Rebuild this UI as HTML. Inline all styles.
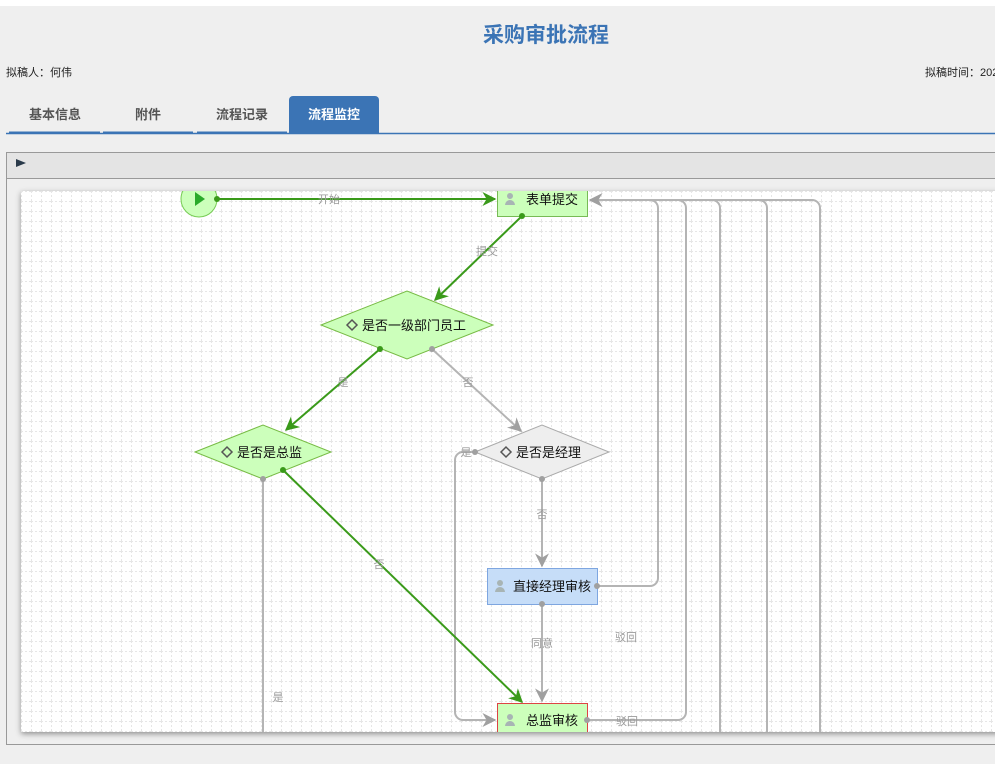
<!DOCTYPE html>
<html><head><meta charset="utf-8"><style>
html,body{margin:0;padding:0;width:995px;height:764px;overflow:hidden;background:#efefef;font-family:"Liberation Sans","Noto Sans CJK SC",sans-serif;}
</style></head><body>
<svg width="995" height="764" xmlns="http://www.w3.org/2000/svg" style="position:absolute;left:0;top:0;font-family:'Liberation Sans','Noto Sans CJK SC',sans-serif">
<defs>
<pattern id="g" width="10" height="10" patternUnits="userSpaceOnUse" x="21" y="191">
<path d="M0 0.5H10M0.5 0V10" stroke="#e6e6e6" stroke-width="1" stroke-dasharray="2,2" fill="none"/>
</pattern>
<marker id="ag" viewBox="0 0 10 10" refX="9" refY="5" markerWidth="7" markerHeight="7" orient="auto"><path d="M0 0L10 5L0 10L3 5z" fill="#3a9a1a"/></marker>
<marker id="ay" viewBox="0 0 10 10" refX="9" refY="5" markerWidth="7" markerHeight="7" orient="auto"><path d="M0 0L10 5L0 10L3 5z" fill="#a0a0a0"/></marker>
<filter id="sh" x="-5%" y="-5%" width="110%" height="110%"><feDropShadow dx="0" dy="2" stdDeviation="3" flood-color="#000" flood-opacity="0.4"/></filter>
<clipPath id="c"><rect x="21" y="191" width="974" height="541"/></clipPath>
</defs>
<rect x="0" y="0" width="995" height="6" fill="#fff"/>
<text x="546" y="42" text-anchor="middle" font-size="21" font-weight="bold" fill="#3b74b5">采购审批流程</text>
<text x="6" y="76" font-size="11" fill="#222">拟稿人：何伟</text>
<text x="925" y="76" font-size="11" fill="#222">拟稿时间：2021</text>
<line x1="6" y1="133.5" x2="995" y2="133.5" stroke="#3b74b5" stroke-width="1.5"/>
<g font-size="13" font-weight="bold" fill="#555" text-anchor="middle">
<line x1="9" y1="132.5" x2="100" y2="132.5" stroke="#3b74b5" stroke-width="2"/>
<line x1="103" y1="132.5" x2="193" y2="132.5" stroke="#3b74b5" stroke-width="2"/>
<line x1="197" y1="132.5" x2="287" y2="132.5" stroke="#3b74b5" stroke-width="2"/>
<text x="55" y="119">基本信息</text><text x="148" y="119">附件</text><text x="242" y="119">流程记录</text>
<path d="M289 133V100a4 4 0 0 1 4-4h82a4 4 0 0 1 4 4V133z" fill="#3b74b5"/>
<text x="334" y="119" fill="#fff">流程监控</text>
</g>
<rect x="6.5" y="152.5" width="995" height="592" fill="#efefef" stroke="#999"/>
<rect x="7" y="153" width="990" height="25" fill="#e4e4e4"/>
<line x1="7" y1="178.5" x2="995" y2="178.5" stroke="#999"/>
<path d="M16 159L26 163L16 167z" fill="#2a3a4a"/>
<rect x="21" y="191" width="980" height="541" fill="#fff" filter="url(#sh)"/>
<rect x="21" y="191" width="980" height="541" fill="url(#g)"/>
<g clip-path="url(#c)" font-size="11">
<g fill="none" stroke="#b4b4b4" stroke-width="2">
<path d="M597 586H650a8 8 0 0 0 8-8V208a8 8 0 0 0-8-8H590" marker-end="url(#ay)"/>
<path d="M587 720H678a8 8 0 0 0 8-8V208a8 8 0 0 0-8-8H650"/>
<path d="M650 200H712a8 8 0 0 1 8 8V740"/>
<path d="M700 200H759a8 8 0 0 1 8 8V740"/>
<path d="M750 200H812a8 8 0 0 1 8 8V740"/>
<path d="M475 452H463a8 8 0 0 0-8 8V712a8 8 0 0 0 8 8H495" marker-end="url(#ay)"/>
<path d="M263 479V740"/>
<path d="M432 349L521 431" marker-end="url(#ay)"/>
<path d="M542 479V566" marker-end="url(#ay)"/>
<path d="M542 604V701" marker-end="url(#ay)"/>
</g>
<g fill="none" stroke="#3a9a1a" stroke-width="2">
<path d="M217 199H495" marker-end="url(#ag)"/>
<path d="M522 216L435 300" marker-end="url(#ag)"/>
<path d="M380 349L286 430" marker-end="url(#ag)"/>
<path d="M283 470L522 702" marker-end="url(#ag)"/>
</g>
<g fill="#9a9a9a" text-anchor="middle">
<text x="329" y="203">开始</text><text x="487" y="255">提交</text><text x="343" y="386">是</text><text x="468" y="386">否</text>
<text x="379" y="568">否</text><text x="542" y="518">否</text><text x="542" y="647">同意</text><text x="626" y="641">驳回</text>
<text x="627" y="725">驳回</text><text x="466" y="456">是</text><text x="278" y="701">是</text>
</g>
<circle cx="199" cy="199" r="18" fill="#ccffbb" stroke="#77cc55"/>
<path d="M195 192L205 199L195 206z" fill="#2aaa2a"/>
<rect x="497.5" y="183.5" width="90" height="33" fill="#ccffbb" stroke="#77bb55"/>
<polygon points="321,325 407,291 493,325 407,359" fill="#ccffbb" stroke="#77bb44"/>
<polygon points="195,452 263,425 331,452 263,479" fill="#ccffbb" stroke="#77bb44"/>
<polygon points="475,452 542,425 609,452 542,479" fill="#eeeeee" stroke="#aaa"/>
<rect x="487.5" y="568.5" width="110" height="36" fill="#c6ddf8" stroke="#7ea6e0"/>
<rect x="497.5" y="703.5" width="90" height="40" fill="#ccffbb" stroke="#dd4444"/>
<g fill="#3a9a1a"><circle cx="217" cy="199" r="3"/><circle cx="522" cy="216" r="3"/><circle cx="380" cy="349" r="3"/><circle cx="283" cy="470" r="3"/></g>
<g fill="#a0a0a0"><circle cx="432" cy="349" r="3"/><circle cx="475" cy="452" r="3"/><circle cx="542" cy="479" r="3"/><circle cx="263" cy="479" r="3"/><circle cx="597" cy="586" r="3"/><circle cx="542" cy="604" r="3"/><circle cx="587" cy="720" r="3"/></g>
<g fill="#a8b4b4"><circle cx="510" cy="196" r="3"/><path d="M505 205a5 5 0 0 1 10 0z"/><circle cx="500" cy="583" r="3"/><path d="M495 592a5 5 0 0 1 10 0z"/><circle cx="510" cy="717" r="3"/><path d="M505 726a5 5 0 0 1 10 0z"/></g>
<g fill="none" stroke="#555" stroke-width="1.5"><path d="M347 325l5-5 5 5-5 5z"/><path d="M222 452l5-5 5 5-5 5z"/><path d="M501 452l5-5 5 5-5 5z"/></g>
<g font-size="13" fill="#111">
<text x="526" y="204">表单提交</text>
<text x="362" y="330">是否一级部门员工</text>
<text x="237" y="457">是否是总监</text>
<text x="516" y="457">是否是经理</text>
<text x="513" y="591">直接经理审核</text>
<text x="526" y="725">总监审核</text>
</g>
</g>
</svg>
</body></html>
